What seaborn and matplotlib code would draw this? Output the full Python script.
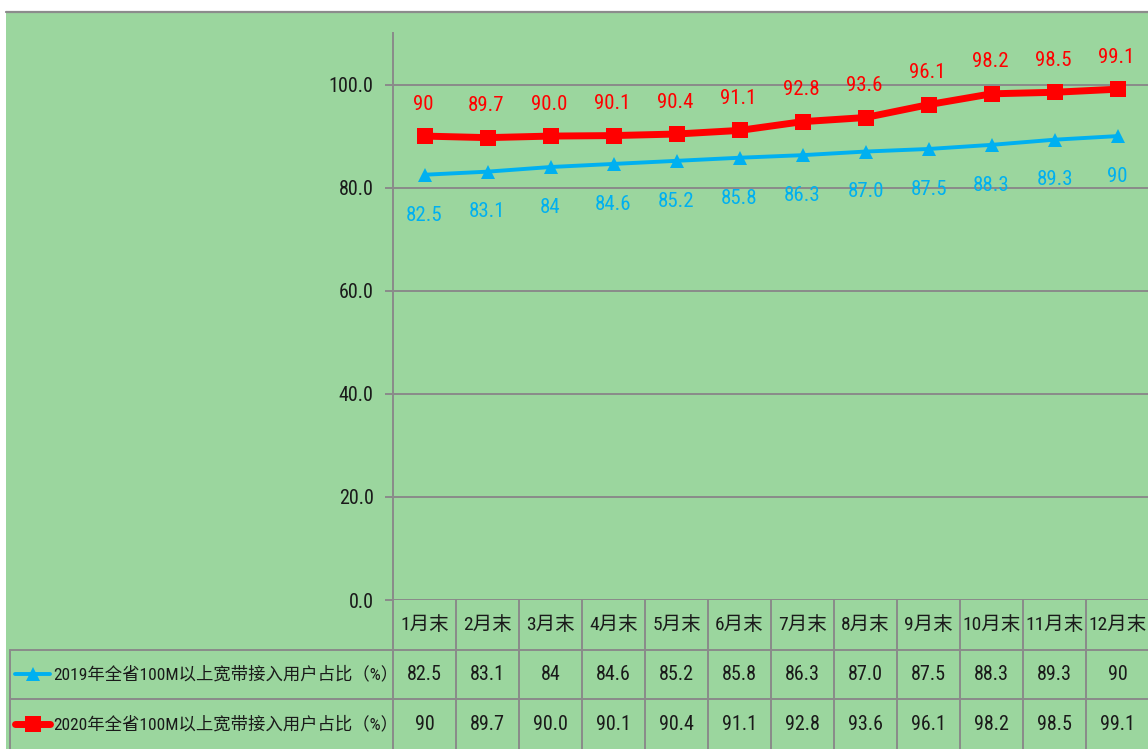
import matplotlib
matplotlib.use("Agg")
import matplotlib.pyplot as plt
import matplotlib.transforms as mtransforms
from matplotlib import font_manager
from matplotlib.lines import Line2D
from matplotlib.patches import Rectangle
import seaborn as sns

months = ["1月末", "2月末", "3月末", "4月末", "5月末", "6月末",
          "7月末", "8月末", "9月末", "10月末", "11月末", "12月末"]
rate_2019 = [82.5, 83.1, 84, 84.6, 85.2, 85.8, 86.3, 87.0, 87.5, 88.3, 89.3, 90]
labels_2019 = ["82.5", "83.1", "84", "84.6", "85.2", "85.8",
               "86.3", "87.0", "87.5", "88.3", "89.3", "90"]
rate_2020 = [90, 89.7, 90.0, 90.1, 90.4, 91.1, 92.8, 93.6, 96.1, 98.2, 98.5, 99.1]
labels_2020 = ["90", "89.7", "90.0", "90.1", "90.4", "91.1",
               "92.8", "93.6", "96.1", "98.2", "98.5", "99.1"]
series_names = ["2019年全省100M以上宽带接入用户占比（%）",
                "2020年全省100M以上宽带接入用户占比（%）"]
yticks = [0, 20, 40, 60, 80, 100]

GREEN = "#9bd69e"
GRID = "#8a8a8a"
BLUE = "#00b0f0"
RED = "#ff0000"
TXT = "#1a1a1a"

sns.set_style("white")

# prefer a narrow latin face for the digits, CJK face for the rest
installed = {f.name for f in font_manager.fontManager.ttflist}
narrow = [n for n in ["Liberation Sans Narrow", "Roboto Condensed", "DejaVu Sans Condensed",
                      "Open Sans Condensed", "Noto Sans Condensed"] if n in installed]
plt.rcParams['font.family'] = narrow[:1] + ['Noto Sans CJK SC', 'DejaVu Sans']

W, H = 1148, 749
fig = plt.figure(figsize=(W / 100, H / 100), dpi=100, facecolor="white")

def fx(px):
    return px / W

def fy(py):
    return 1 - py / H

# green background and top rule
fig.patches.append(Rectangle((fx(6), 0), 1 - fx(6), fy(11), transform=fig.transFigure,
                             facecolor=GREEN, edgecolor="none", zorder=-10))
fig.lines.append(Line2D([fx(6), 1], [fy(11.5), fy(11.5)], transform=fig.transFigure,
                        color="#8c8c8c", lw=1.6))

ax = fig.add_axes([fx(393), fy(600), fx(756), (600 - 33) / H])
ax.set_facecolor("none")
x = list(range(len(months)))

sns.lineplot(x=x, y=rate_2019, ax=ax, color=BLUE, linewidth=2.8, marker="^",
             markersize=10.5, markeredgewidth=0, zorder=3)
sns.lineplot(x=x, y=rate_2020, ax=ax, color=RED, linewidth=5, marker="s",
             markersize=12, markeredgewidth=0, zorder=4)

for i, (v, s) in enumerate(zip(rate_2019, labels_2019)):
    ax.annotate(s, (i, v), xytext=(0, -29), textcoords="offset points",
                ha="center", va="center", color=BLUE, fontsize=15)
for i, (v, s) in enumerate(zip(rate_2020, labels_2020)):
    ax.annotate(s, (i, v), xytext=(-1, 23), textcoords="offset points",
                ha="center", va="center", color=RED, fontsize=15)

ax.set_xlim(-0.5, 11.5)
ax.set_ylim(0, 110)
ax.set_yticks(yticks)
ax.set_yticklabels([f"{v:.1f}" for v in yticks], fontsize=14.5, color=TXT)
ax.set_xticks([])
ax.tick_params(axis="y", length=6, width=1.4, color=GRID, pad=8, left=True)
for v in yticks:
    ax.axhline(v, color=GRID, lw=1.4, zorder=1)
for side in ["top", "right", "bottom"]:
    ax.spines[side].set_visible(False)
ax.spines["left"].set_color(GRID)
ax.spines["left"].set_linewidth(1.4)

# data table below the plot
tr = mtransforms.blended_transform_factory(ax.transData, fig.transFigure)
row_lines = [650, 699]
row_mid = [625, 674, 724]
for b in [i - 0.5 for i in range(len(months) + 1)]:
    fig.lines.append(Line2D([b, b], [fy(600), 0], transform=tr, color=GRID, lw=1.4))
for ry in row_lines:
    fig.lines.append(Line2D([fx(10), 1], [fy(ry), fy(ry)], transform=fig.transFigure,
                            color=GRID, lw=1.4))
fig.lines.append(Line2D([fx(10), fx(10)], [fy(650), 0], transform=fig.transFigure,
                        color=GRID, lw=1.4))

for i, m in enumerate(months):
    fig.text(i, fy(row_mid[0]), m, transform=tr, ha="center", va="center",
             fontsize=14, color=TXT)
for i, s in enumerate(labels_2019):
    fig.text(i, fy(row_mid[1]), s, transform=tr, ha="center", va="center",
             fontsize=14.5, color=TXT)
for i, s in enumerate(labels_2020):
    fig.text(i, fy(row_mid[2]), s, transform=tr, ha="center", va="center",
             fontsize=14.5, color=TXT)

# legend keys in the row headers
keys = [(BLUE, "^", 2.8, 10.5), (RED, "s", 5, 12)]
for (c, mk, lw, ms), name, ry in zip(keys, series_names, row_mid[1:]):
    fig.lines.append(Line2D([fx(15), fx(50)], [fy(ry), fy(ry)], transform=fig.transFigure,
                            color=c, lw=lw))
    fig.lines.append(Line2D([fx(32.5)], [fy(ry)], transform=fig.transFigure, color=c,
                            marker=mk, markersize=ms, markeredgewidth=0, lw=0))
    fig.text(fx(53), fy(ry), name, ha="left", va="center", fontsize=12.5, color=TXT)

fig.savefig("out.png", dpi=100, facecolor="white")
